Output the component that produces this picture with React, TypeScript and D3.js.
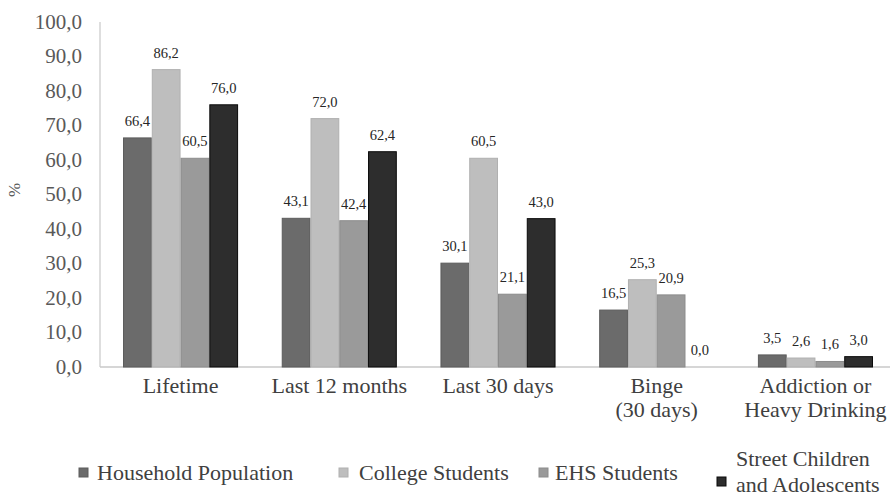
import React from "react";
import * as d3 from "d3";

const categories = ["Lifetime", "Last 12 months", "Last 30 days", "Binge|(30 days)", "Addiction or|Heavy Drinking"];
const seriesNames = ["Household Population", "College Students", "EHS Students", "Street Children|and Adolescents"];
const household = [66.4, 43.1, 30.1, 16.5, 3.5];
const college = [86.2, 72.0, 60.5, 25.3, 2.6];
const ehs = [60.5, 42.4, 21.1, 20.9, 1.6];
const street = [76.0, 62.4, 43.0, 0.0, 3.0];
const yTicks = [0, 10, 20, 30, 40, 50, 60, 70, 80, 90, 100];

const colors = ["#6b6b6b", "#bebebe", "#9a9a9a", "#2d2d2d"];
const strokes = ["#5c5c5c", "#b0b0b0", "#8c8c8c", "#0a0a0a"];

const fmt = (v: number) => v.toFixed(1).replace(".", ",");
const FONT = '"Liberation Serif"';

export default function App() {
  const W = 890, H = 498;
  const left = 100, top = 22, bottom = 367;
  const series = [household, college, ehs, street];
  const x0 = d3.scaleBand<string>().domain(categories).range([left, 896]).paddingInner(0.275).paddingOuter(0.145);
  const x1 = d3.scaleBand<number>().domain([0, 1, 2, 3]).range([0, x0.bandwidth()]).padding(0);
  const y = d3.scaleLinear().domain([0, 100]).range([bottom, top]);
  const legendSq = [79, 339, 539, 717];
  const legendTx = [97, 359, 555, 736];
  const tf = { fontFamily: FONT };

  return (
    <svg width={W} height={H} style={{ position: "absolute", left: 0, top: 0, background: "#fff", fontFamily: FONT }}>
      <line x1={left} x2={left} y1={top} y2={bottom} stroke="#c8c8c8" strokeWidth={1.2} />
      <line x1={left} x2={890} y1={bottom} y2={bottom} stroke="#c8c8c8" strokeWidth={1.5} />
      {yTicks.map((t) => (
        <text key={t} x={82} y={y(t)} dy="0.33em" textAnchor="end" fontSize={21} fill="#595959" style={tf}>
          {fmt(t)}
        </text>
      ))}
      <text transform={`translate(20,190) rotate(-90)`} textAnchor="middle" fontSize={17} fill="#595959" style={tf}>%</text>
      {categories.map((c, ci) => (
        <g key={c}>
          {series.map((s, si) => {
            const bx = (x0(c) as number) + (x1(si) as number);
            const bw = x1.bandwidth();
            const by = y(s[ci]);
            return (
              <g key={si}>
                {s[ci] > 0 && (
                  <rect x={bx + 0.5} y={by} width={bw - 1} height={bottom - by} fill={colors[si]} stroke={strokes[si]} strokeWidth={1} />
                )}
                <text x={bx + bw / 2} y={by - 12} textAnchor="middle" fontSize={14.5} fill="#262626" style={tf}>
                  {fmt(s[ci])}
                </text>
              </g>
            );
          })}
          {c.split("|").map((line, li) => (
            <text key={li} x={(x0(c) as number) + x0.bandwidth() / 2} y={393 + li * 24} textAnchor="middle" fontSize={22} fill="#404040" style={tf}>
              {line}
            </text>
          ))}
        </g>
      ))}
      {seriesNames.map((n, i) => {
        const lines = n.split("|");
        const multi = lines.length > 1;
        return (
          <g key={n}>
            <rect x={legendSq[i]} y={multi ? 477 : 468} width={9} height={9} fill={colors[i]} stroke={strokes[i]} />
            {lines.map((l, li) => (
              <text key={li} x={legendTx[i]} y={multi ? 466 + li * 26 : 480} fontSize={22} fill="#404040" style={tf}>
                {l}
              </text>
            ))}
          </g>
        );
      })}
    </svg>
  );
}
